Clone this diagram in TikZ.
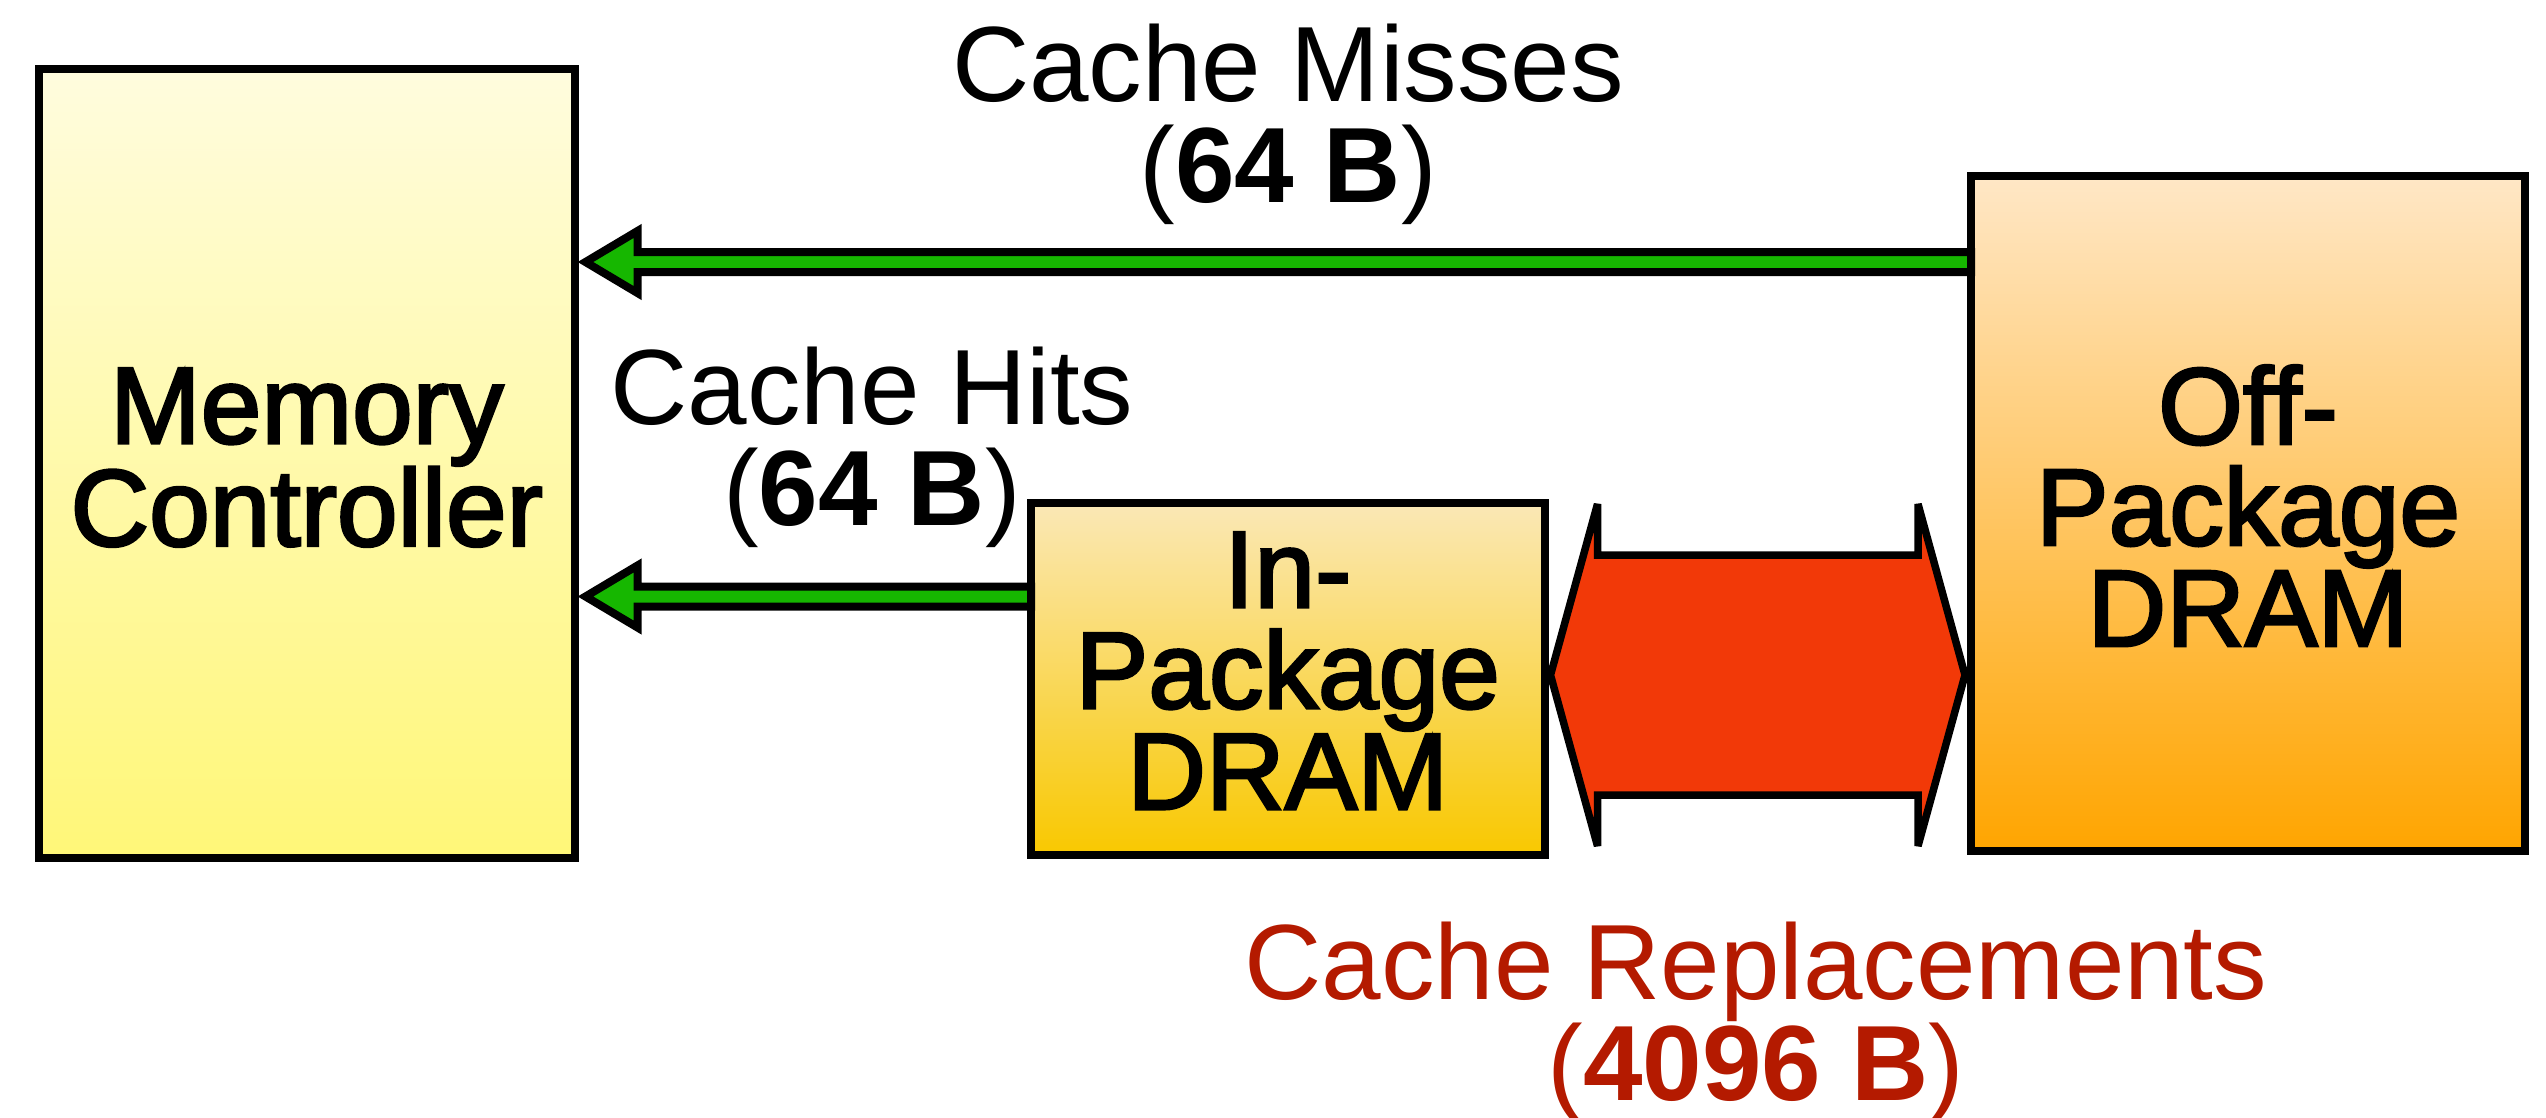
\documentclass[tikz,border=0pt]{standalone}
\usepackage{fontspec}
\setmainfont{Liberation Sans}
\newfontfamily\boxfont{Liberation Sans}[FakeBold=2.5]
\usetikzlibrary{calc}

\definecolor{arrowgreen}{RGB}{22,183,0}
\definecolor{replred}{RGB}{242,57,8}
\definecolor{repltext}{RGB}{180,26,0}
\definecolor{mctop}{RGB}{255,252,222}
\definecolor{mcbot}{RGB}{255,247,120}
\definecolor{iptop}{RGB}{250,232,182}
\definecolor{ipbot}{RGB}{249,200,0}
\definecolor{optop}{RGB}{255,231,198}
\definecolor{opbot}{RGB}{255,165,0}

\begin{document}
\begin{tikzpicture}[x=1pt,y=-1pt,
  unitbox/.style={draw=black, line width=8pt, outer sep=0pt, inner sep=0pt, rectangle},
  boxtext/.style={font=\boxfont\fontsize{109}{101}\selectfont, align=center, inner sep=0pt, anchor=north},
  flowlabel/.style={font=\fontsize{107}{101}\selectfont, align=center, inner sep=0pt, anchor=north},
  greenarrow/.style={draw=black, fill=arrowgreen, line width=8pt, line join=miter},
  replarrow/.style={draw=black, fill=replred, line width=7.5pt, line join=miter, miter limit=6}]

\useasboundingbox (0,0) rectangle (2546,1117);

% units
\node[unitbox, top color=mctop, bottom color=mcbot,
      minimum width=535.5pt, minimum height=789pt] (mc) at (306.75,463.5) {};
\node[unitbox, top color=iptop, bottom color=ipbot,
      minimum width=513.5pt, minimum height=352pt] (ip) at (1287.75,679) {};
\node[unitbox, top color=optop, bottom color=opbot,
      minimum width=554pt, minimum height=675pt] (op) at (2248,513.5) {};

\node[boxtext] (mctext) at (mc.north |- 0,368) {Memory\\Controller};
\node[boxtext] (iptext) at (ip.north |- 0,532) {In-\\Package\\DRAM};
\node[boxtext] (optext) at (op.north |- 0,365) {Off-\\Package\\DRAM};

% cache misses: off-package DRAM -> memory controller
\draw[greenarrow] let \p1=([xshift=11pt]mc.east |- 0,262), \p2=(op.west |- 0,262) in
  (\p1) -- (\x1+52pt,\y1+31pt) -- (\x1+52pt,\y1+10pt) -- (\x2,\y1+10pt)
  -- (\x2,\y1-10pt) -- (\x1+52pt,\y1-10pt) -- (\x1+52pt,\y1-31pt) -- cycle;

% cache hits: in-package DRAM -> memory controller
\draw[greenarrow] let \p1=([xshift=11pt]mc.east |- 0,596.5), \p2=(ip.west |- 0,596.5) in
  (\p1) -- (\x1+52pt,\y1+31pt) -- (\x1+52pt,\y1+10pt) -- (\x2,\y1+10pt)
  -- (\x2,\y1-10pt) -- (\x1+52pt,\y1-10pt) -- (\x1+52pt,\y1-31pt) -- cycle;

% cache replacements between the two DRAMs
\draw[replarrow] let \p1=([xshift=6pt]ip.east |- 0,675), \p2=([xshift=-6pt]op.west |- 0,675) in
  (\p1) -- (\x1+47pt,\y1+171pt) -- (\x1+47pt,\y1+120pt) -- (\x2-47pt,\y1+120pt)
  -- (\x2-47pt,\y1+171pt) -- (\p2) -- (\x2-47pt,\y1-171pt) -- (\x2-47pt,\y1-120pt)
  -- (\x1+47pt,\y1-120pt) -- (\x1+47pt,\y1-171pt) -- cycle;

% labels
\node[flowlabel] (misses) at (1288,24) {Cache Misses\\(\textbf{64 B})};
\node[flowlabel] (hits) at (872,347) {Cache Hits\\(\textbf{64 B})};
\node[flowlabel, text=repltext] (repl) at (1756,922) {Cache Replacements\\(\textbf{4096 B})};
\end{tikzpicture}
\end{document}
